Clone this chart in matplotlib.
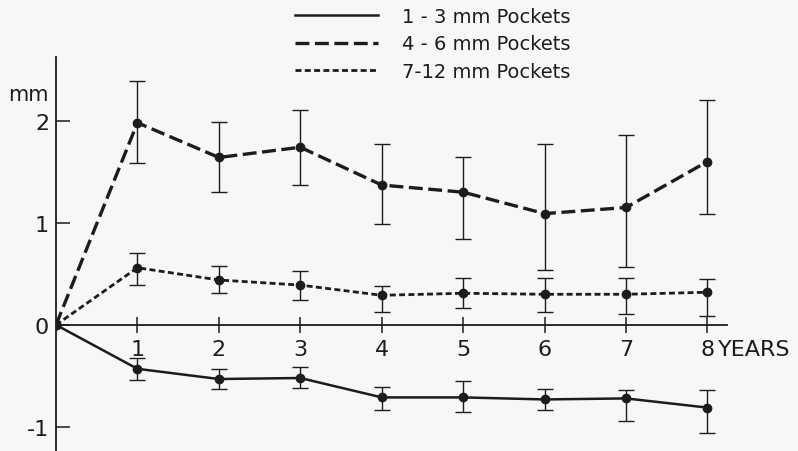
import numpy as np
import matplotlib.pyplot as plt
from matplotlib.lines import Line2D

plt.rcParams['font.family'] = ['DejaVu Sans']
plt.rcParams['axes.unicode_minus'] = False
plt.rcParams['lines.scale_dashes'] = False

years = np.arange(0, 9)
ink = '#1c1c1c'

# mean attachment change (mm) per pocket depth group, year 0 is baseline
shallow = np.array([0, -0.43, -0.53, -0.52, -0.71, -0.71, -0.73, -0.72, -0.81])
shallow_lo = np.array([-0.54, -0.63, -0.62, -0.83, -0.85, -0.83, -0.94, -1.06])
shallow_hi = np.array([-0.32, -0.43, -0.41, -0.61, -0.55, -0.63, -0.64, -0.64])

moderate = np.array([0, 1.98, 1.64, 1.74, 1.37, 1.30, 1.09, 1.15, 1.60])
moderate_lo = np.array([1.59, 1.30, 1.37, 0.99, 0.84, 0.54, 0.57, 1.09])
moderate_hi = np.array([2.39, 1.99, 2.10, 1.77, 1.64, 1.77, 1.86, 2.20])

deep = np.array([0, 0.56, 0.44, 0.39, 0.29, 0.31, 0.30, 0.30, 0.32])
deep_lo = np.array([0.39, 0.31, 0.24, 0.125, 0.17, 0.125, 0.11, 0.09])
deep_hi = np.array([0.70, 0.58, 0.53, 0.385, 0.46, 0.46, 0.46, 0.45])

labels = ['1 - 3 mm Pockets', '4 - 6 mm Pockets', '7-12 mm Pockets']

fig = plt.figure(figsize=(7.98, 4.52), dpi=100, facecolor='#f7f7f5')
ax = fig.add_axes([56 / 798, 0, 671 / 798, 394 / 452])
ax.set_facecolor('none')

styles = [
    dict(ls='-', lw=1.8),
    dict(ls=(0, (10, 4)), lw=2.4),
    dict(ls=(0, (4.3, 2.4)), lw=2.0),
]
series = [(shallow, shallow_lo, shallow_hi),
          (moderate, moderate_lo, moderate_hi),
          (deep, deep_lo, deep_hi)]

for (vals, lo, hi), st in zip(series, styles):
    ax.plot(years, vals, color=ink, marker='o', ms=6, **st)
    v = vals[1:]
    ax.errorbar(years[1:], v, yerr=[v - lo, hi - v], fmt='none',
                ecolor=ink, elinewidth=1.0, capsize=6, capthick=1.0)

ax.set_xlim(0, 8.24)
ax.set_ylim(-1.235, 2.624)

for s in ['top', 'right']:
    ax.spines[s].set_visible(False)
ax.spines['bottom'].set_position(('data', 0))
for s in ['left', 'bottom']:
    ax.spines[s].set_color(ink)
    ax.spines[s].set_linewidth(1.3)

ax.set_xticks(range(1, 9))
ax.set_xticklabels([str(i) for i in range(1, 9)])
ax.set_yticks([-1, 0, 1, 2])
ax.set_yticklabels(['-1', '0', '1', '2'])
ax.tick_params(axis='x', direction='inout', length=11, width=1.1,
               color=ink, labelsize=16, pad=5, labelcolor=ink)
ax.tick_params(axis='y', direction='in', length=10, width=1.1,
               color=ink, labelsize=16, pad=5, labelcolor=ink)

ax.annotate('YEARS', xy=(8, 0), xytext=(7.5, -10.5), textcoords='offset points',
            ha='left', va='top', fontsize=16, color=ink)
ax.annotate('mm', xy=(0, 2.26), xytext=(-5, 0), textcoords='offset points',
            ha='right', va='center', fontsize=15, color=ink,
            annotation_clip=False)

handles = [Line2D([], [], color=ink, **st) for st in styles]
ax.legend(handles, labels, loc='upper left',
          bbox_to_anchor=(287 / 798, 1 - 0 / 452), bbox_transform=fig.transFigure,
          frameon=False, fontsize=14, handlelength=4.28, handletextpad=1.24,
          labelspacing=0.44, borderaxespad=0, labelcolor=ink)

fig.savefig('out.png', dpi=100, facecolor=fig.get_facecolor())
